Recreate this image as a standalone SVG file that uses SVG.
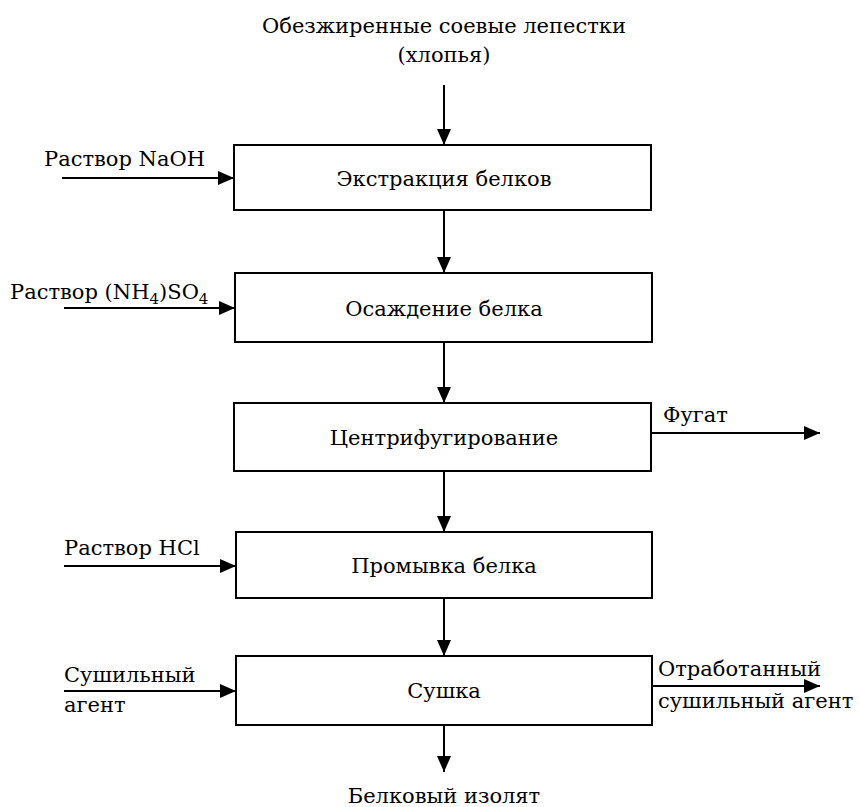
<svg xmlns="http://www.w3.org/2000/svg" width="859" height="807" viewBox="0 0 859 807">
  <style>
    text { font-family: 'DejaVu Serif', 'Liberation Serif', serif; font-size: 21px; fill: #000; }
    .mid { text-anchor: middle; }
    .box { fill: #fff; stroke: #000; stroke-width: 2; }
    .flow { stroke: #000; stroke-width: 2; fill: none; marker-end: url(#arrow); }
    .sub { font-size: 15px; }
  </style>
  <defs>
    <marker id="arrow" markerUnits="userSpaceOnUse" markerWidth="16" markerHeight="14" refX="16" refY="7" orient="auto">
      <path d="M0,0 L16,7 L0,14 z" fill="#000"/>
    </marker>
  </defs>
  <rect width="859" height="807" fill="#fff"/>

  <!-- connectors -->
  <g id="connectors">
    <line class="flow" x1="444" y1="85" x2="444" y2="145"/>
    <line class="flow" x1="444" y1="210" x2="444" y2="273"/>
    <line class="flow" x1="444" y1="342" x2="444" y2="403"/>
    <line class="flow" x1="444" y1="471" x2="444" y2="532"/>
    <line class="flow" x1="444" y1="598" x2="444" y2="656"/>
    <line class="flow" x1="444" y1="725" x2="444" y2="772"/>
    <line class="flow" x1="62" y1="178" x2="234" y2="178"/>
    <line class="flow" x1="64" y1="308" x2="235" y2="308"/>
    <line class="flow" x1="651" y1="433" x2="820" y2="433"/>
    <line class="flow" x1="64" y1="566" x2="236" y2="566"/>
    <line class="flow" x1="64" y1="691" x2="236" y2="691"/>
    <line class="flow" x1="652" y1="686" x2="820" y2="686"/>
  </g>

  <!-- stream labels -->
  <g id="labels">
    <text class="mid" x="444" y="33">Обезжиренные соевые лепестки</text>
    <text class="mid" x="444" y="62">(хлопья)</text>
    <text x="44" y="166">Раствор NaOH</text>
    <text x="10" y="299">Раствор (NH<tspan class="sub" dy="5">4</tspan><tspan dy="-5">)SO</tspan><tspan class="sub" dy="5">4</tspan></text>
    <text x="663" y="422">Фугат</text>
    <text x="64" y="555">Раствор HCl</text>
    <text x="64" y="682">Сушильный</text>
    <text x="64" y="712">агент</text>
    <text x="658" y="676">Отработанный</text>
    <text x="658" y="708">сушильный агент</text>
    <text class="mid" x="444" y="803">Белковый изолят</text>
  </g>

  <g id="extraction">
    <rect class="box" x="234" y="145" width="417" height="65"/>
    <text class="mid" x="444" y="186">Экстракция белков</text>
  </g>
  <g id="precipitation">
    <rect class="box" x="235" y="273" width="417" height="69"/>
    <text class="mid" x="444" y="316">Осаждение белка</text>
  </g>
  <g id="centrifugation">
    <rect class="box" x="234" y="403" width="417" height="68"/>
    <text class="mid" x="444" y="445">Центрифугирование</text>
  </g>
  <g id="washing">
    <rect class="box" x="236" y="532" width="416" height="66"/>
    <text class="mid" x="444" y="573">Промывка белка</text>
  </g>
  <g id="drying">
    <rect class="box" x="236" y="656" width="416" height="69"/>
    <text class="mid" x="444" y="698">Сушка</text>
  </g>
</svg>
